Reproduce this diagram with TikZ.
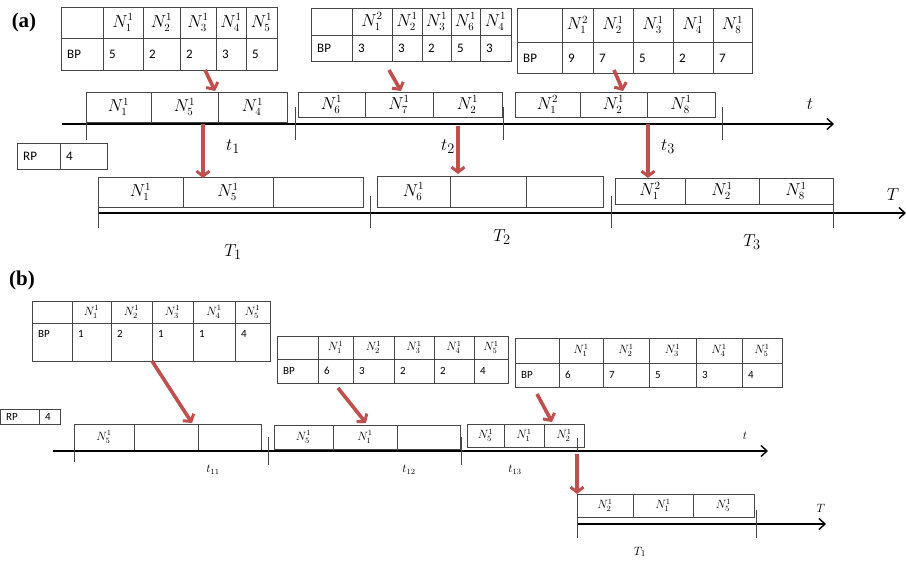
\documentclass[tikz,border=0pt]{standalone}
\usepackage{fontspec}
\setmainfont{Liberation Serif}
\newfontfamily\calfont{Carlito}
\usetikzlibrary{arrows.meta}
\definecolor{arrred}{RGB}{192,80,77}
\definecolor{tgray}{RGB}{70,70,70}
\tikzset{
  tline/.style={draw=tgray,line width=0.8pt},
  redarr/.style={draw=arrred,line width=3.6pt,-{Straight Barb[length=5pt,width=13pt,line width=3pt]}},
  axis/.style={draw=black,line width=2pt,-{Straight Barb[length=6pt,width=11pt,line width=1.4pt]}},
  tick/.style={draw=tgray,line width=0.9pt},
  lbl/.style={inner sep=0pt},
}
\newcommand\bptable[6]{%
  \foreach \xa/\xb/\hd/\vl [count=\i] in {#6}{
    \draw[tline] (\xa,#2) rectangle (\xb,#4);
    \draw[tline] (\xa,#3) -- (\xb,#3);
    \node[hdr] (#1-h\i) at ({(\xa+\xb)/2},{(#2+#3)/2}) {\hd};
    \node[val] (#1-v\i) at (\xa+6,#5) {\vl};
  }}
\newcommand\cellrow[4]{%
  \foreach \xa/\xb/\tx [count=\i] in {#4}{
    \draw[tline] (\xa,#2) rectangle (\xb,#3);
    \node[hdr] (#1-\i) at ({(\xa+\xb)/2},{(#2+#3)/2}) {\tx};
  }}
\begin{document}
\begin{tikzpicture}[x=1pt,y=-1pt]
\useasboundingbox (0,0) rectangle (906,561);

% ================= (a) =================
\node[lbl,font=\fontsize{21}{24}\selectfont\bfseries] (la) at (24,22) {(a)};
\begin{scope}[hdr/.style={inner sep=0pt,font=\fontsize{16}{18}\selectfont},
              val/.style={inner sep=0pt,anchor=west,font=\calfont\fontsize{13}{15}\selectfont}]
\bptable{A1}{7}{38}{70}{54}{61/103//BP,103/143/$N_1^1$/5,143/180/$N_2^1$/2,180/216/$N_3^1$/2,216/246/$N_4^1$/3,246/277/$N_5^1$/5}
\bptable{A2}{8}{35}{61}{48}{311/352//BP,352/392/$N_1^2$/3,392/422/$N_2^1$/3,422/451/$N_3^1$/2,451/480/$N_6^1$/5,480/511/$N_4^1$/3}
\bptable{A3}{8}{42}{73}{58}{517/562//BP,562/593/$N_1^2$/9,593/633/$N_2^1$/7,633/673/$N_3^1$/5,673/713/$N_4^1$/2,713/752/$N_8^1$/7}
\bptable{RA}{143}{143}{169}{156}{17/60//RP,60/107//4}

\cellrow{B1}{92}{122}{86/151/$N_1^1$,151/218/$N_5^1$,218/287/$N_4^1$}
\cellrow{B2}{92}{117}{298/365/$N_6^1$,365/433/$N_7^1$,433/502/$N_2^1$}
\cellrow{B3}{92}{117}{515/580/$N_1^2$,580/647/$N_2^1$,647/715/$N_8^1$}

\cellrow{C1}{177}{207}{98/183/$N_1^1$,183/273/$N_5^1$,273/363/}
\cellrow{C2}{176}{207}{377/450/$N_6^1$,450/526/,526/603/}
\cellrow{C3}{178}{204}{615/685/$N_1^2$,685/759/$N_2^1$,759/833/$N_8^1$}
\end{scope}

% t axis (a)
\coordinate (ta0) at (62,124);
\coordinate (ta1) at (834,124);
\draw[axis] (ta0) -- (ta1);
\node[lbl,font=\fontsize{19}{22}\selectfont] (tA) at (810,104) {$t$};
\foreach \x/\yy [count=\i] in {86/117,295/107,503/107,722/107}{
  \coordinate (tka\i) at (\x,\yy);
  \coordinate (tkb\i) at (\x,140);
  \draw[tick] (tka\i) -- (tkb\i);
}
\node[lbl,font=\fontsize{19}{22}\selectfont] (t1) at (233,147) {$t_1$};
\node[lbl,font=\fontsize{19}{22}\selectfont] (t2) at (448,147) {$t_2$};
\node[lbl,font=\fontsize{19}{22}\selectfont] (t3) at (668,147) {$t_3$};

% T axis (a)
\coordinate (Ta0) at (98,213);
\coordinate (Ta1) at (906,213);
\draw[axis] (Ta0) -- (Ta1);
\node[lbl,font=\fontsize{19}{22}\selectfont] (TA) at (893,195) {$T$};
\foreach \x/\yy [count=\i] in {98/207,370/196,611/196,833/196}{
  \coordinate (Tka\i) at (\x,\yy);
  \coordinate (Tkb\i) at (\x,228);
  \draw[tick] (Tka\i) -- (Tkb\i);
}
\node[lbl,font=\fontsize{19}{22}\selectfont] (T1) at (233,252) {$T_1$};
\node[lbl,font=\fontsize{19}{22}\selectfont] (T2) at (502,237) {$T_2$};
\node[lbl,font=\fontsize{19}{22}\selectfont] (T3) at (752,242) {$T_3$};

% red arrows (a)
\coordinate (ra1s) at (205,70);  \coordinate (ra1e) at (215,91);
\coordinate (ra2s) at (389,70);  \coordinate (ra2e) at (401,91);
\coordinate (ra3s) at (614,70);  \coordinate (ra3e) at (623,91);
\draw[redarr] (ra1s) -- (ra1e);
\draw[redarr] (ra2s) -- (ra2e);
\draw[redarr] (ra3s) -- (ra3e);
\coordinate (rv1s) at (203,124); \coordinate (rv1e) at (203,178);
\coordinate (rv2s) at (458,126); \coordinate (rv2e) at (458,174);
\coordinate (rv3s) at (648,124); \coordinate (rv3e) at (648,178);
\draw[redarr] (rv1s) -- (rv1e);
\draw[redarr] (rv2s) -- (rv2e);
\draw[redarr] (rv3s) -- (rv3e);

% ================= (b) =================
\node[lbl,font=\fontsize{21}{24}\selectfont\bfseries] (lb) at (22,280) {(b)};
\begin{scope}[hdr/.style={inner sep=0pt,font=\fontsize{12}{14}\selectfont},
              val/.style={inner sep=0pt,anchor=west,font=\calfont\fontsize{11}{13}\selectfont}]
\bptable{D1}{301}{323}{361}{334}{32/72//BP,72/111/$N_1^1$/1,111/152/$N_2^1$/2,152/193/$N_3^1$/1,193/235/$N_4^1$/1,235/270/$N_5^1$/4}
\bptable{D2}{336}{359}{383}{371}{277/318//BP,318/353/$N_1^1$/6,353/394/$N_2^1$/3,394/434/$N_3^1$/2,434/474/$N_4^1$/2,474/508/$N_5^1$/4}
\bptable{D3}{338}{363}{387}{375}{515/559//BP,559/603/$N_1^1$/6,603/649/$N_2^1$/7,649/696/$N_3^1$/5,696/742/$N_4^1$/3,742/782/$N_5^1$/4}
\bptable{RB}{409}{409}{424}{416.5}{0/39//RP,39/60//4}

\cellrow{E1}{424}{450}{74/134/$N_5^1$,134/198/,198/261/}
\cellrow{E2}{425}{449}{274/333/$N_5^1$,333/397/$N_1^1$,397/460/}
\cellrow{E3}{424}{447}{467/504/$N_5^1$,504/544/$N_1^1$,544/584/$N_2^1$}
\cellrow{F1}{494}{517}{577/633/$N_2^1$,633/693/$N_1^1$,693/754/$N_5^1$}
\end{scope}

% t axis (b)
\coordinate (tb0) at (53,451);
\coordinate (tb1) at (768,451);
\draw[axis] (tb0) -- (tb1);
\node[lbl,font=\fontsize{13}{15}\selectfont] (tB) at (745,436) {$t$};
\foreach \x/\ya/\yb [count=\i] in {74/450/462,268/437/465,461/437/465,577/438/451}{
  \coordinate (tbka\i) at (\x,\ya);
  \coordinate (tbkb\i) at (\x,\yb);
  \draw[tick] (tbka\i) -- (tbkb\i);
}
\node[lbl,font=\fontsize{12}{14}\selectfont] (t11) at (213,470) {$t_{11}$};
\node[lbl,font=\fontsize{12}{14}\selectfont] (t12) at (409,470) {$t_{12}$};
\node[lbl,font=\fontsize{12}{14}\selectfont] (t13) at (515,470) {$t_{13}$};

% T axis (b)
\coordinate (Tb0) at (577,524);
\coordinate (Tb1) at (826,524);
\draw[axis] (Tb0) -- (Tb1);
\node[lbl,font=\fontsize{13}{15}\selectfont] (TB) at (821,508) {$T$};
\foreach \x/\ya [count=\i] in {577/494,756/510}{
  \coordinate (Tbka\i) at (\x,\ya);
  \coordinate (Tbkb\i) at (\x,538);
  \draw[tick] (Tbka\i) -- (Tbkb\i);
}
\node[lbl,font=\fontsize{13}{15}\selectfont] (Tb1l) at (640,552) {$T_1$};

% red arrows (b)
\coordinate (rb1s) at (152,361); \coordinate (rb1e) at (192,423);
\coordinate (rb2s) at (338,388); \coordinate (rb2e) at (366,423);
\coordinate (rb3s) at (537,394); \coordinate (rb3e) at (552,422);
\coordinate (rb4s) at (577,454); \coordinate (rb4e) at (577,494);
\draw[redarr] (rb1s) -- (rb1e);
\draw[redarr] (rb2s) -- (rb2e);
\draw[redarr] (rb3s) -- (rb3e);
\draw[redarr] (rb4s) -- (rb4e);
\end{tikzpicture}
\end{document}
